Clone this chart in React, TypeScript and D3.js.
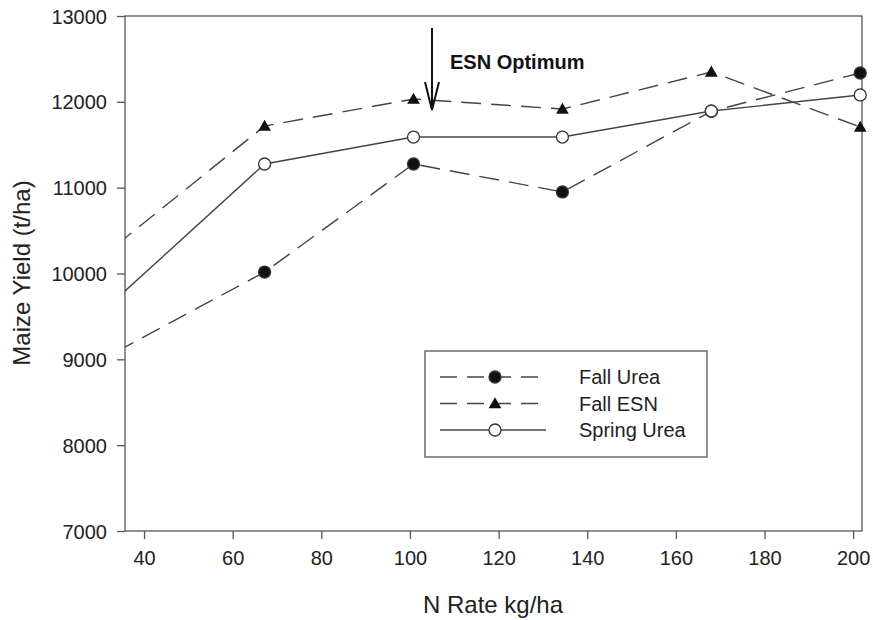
import React, { useEffect, useRef } from "react";
import * as d3 from "d3";

// N rate in kg/ha (first rate sits just left of the axis and is clipped)
const nRates = [33.6, 67.2, 100.8, 134.4, 168, 201.6];
const fallUrea = [9085, 10017, 11276, 10950, 11890, 12336];
const fallESN = [10326, 11718, 12033, 11916, 12348, 11707];
const springUrea = [9697, 11276, 11590, 11590, 11893, 12080];

const xTicks = [40, 60, 80, 100, 120, 140, 160, 180, 200];
const yTicks = [7000, 8000, 9000, 10000, 11000, 12000, 13000];

const seriesList = [
  { name: "Fall Urea", values: fallUrea, marker: "circle", fill: "#111", dash: "20,10" },
  { name: "Fall ESN", values: fallESN, marker: "triangle", fill: "#111", dash: "20,10" },
  { name: "Spring Urea", values: springUrea, marker: "circle", fill: "#fff", dash: null },
];

const App = () => {
  const ref = useRef<SVGSVGElement>(null);

  useEffect(() => {
    const svg = d3.select(ref.current);
    svg.selectAll("*").remove();

    const left = 125;
    const right = 862;
    const top = 16;
    const bottom = 531;
    const font = "'Liberation Sans', Arial, sans-serif";

    const x = d3.scaleLinear().domain([35.7, 202]).range([left, right]);
    const y = d3.scaleLinear().domain([7000, 13000]).range([bottom, top]);

    svg
      .append("defs")
      .append("clipPath")
      .attr("id", "plot-clip")
      .append("rect")
      .attr("x", left)
      .attr("y", top)
      .attr("width", right - left)
      .attr("height", bottom - top);

    // frame
    svg
      .append("rect")
      .attr("x", left)
      .attr("y", top)
      .attr("width", right - left)
      .attr("height", bottom - top)
      .attr("fill", "none")
      .attr("stroke", "#555")
      .attr("stroke-width", 1.3);

    // axes
    const xAxis = svg
      .append("g")
      .attr("transform", `translate(0,${bottom})`)
      .call(d3.axisBottom(x).tickValues(xTicks).tickSize(8).tickPadding(12).tickFormat(d3.format("d")));
    const yAxis = svg
      .append("g")
      .attr("transform", `translate(${left},0)`)
      .call(d3.axisLeft(y).tickValues(yTicks).tickSize(8).tickPadding(10).tickFormat(d3.format("d")));

    [xAxis, yAxis].forEach((g) => {
      g.select(".domain").remove();
      g.selectAll("line").attr("stroke", "#555").attr("stroke-width", 1.3);
      g.selectAll("text").attr("font-family", font).attr("font-size", 20).attr("fill", "#222");
    });
    yAxis.selectAll("text").attr("dy", "0.35em");

    // lines
    const plot = svg.append("g").attr("clip-path", "url(#plot-clip)");
    const line = d3
      .line<number>()
      .x((d, i) => x(nRates[i]))
      .y((d) => y(d));

    seriesList.forEach((s) => {
      plot
        .append("path")
        .attr("d", line(s.values))
        .attr("fill", "none")
        .attr("stroke", "#444")
        .attr("stroke-width", 1.4)
        .attr("stroke-dasharray", s.dash);
    });

    const drawMarker = (g, s, cx, cy) => {
      if (s.marker === "circle") {
        g.append("circle")
          .attr("cx", cx)
          .attr("cy", cy)
          .attr("r", 6)
          .attr("fill", s.fill)
          .attr("stroke", "#333")
          .attr("stroke-width", 1.3);
      } else {
        g.append("path")
          .attr("d", d3.symbol(d3.symbolTriangle, 70)())
          .attr("transform", `translate(${cx},${cy + 1})`)
          .attr("fill", s.fill);
      }
    };

    const marks = svg.append("g");
    seriesList.forEach((s) => {
      s.values.forEach((v, i) => {
        if (nRates[i] < 35.7) return;
        drawMarker(marks, s, x(nRates[i]), y(v));
      });
    });

    // annotation
    const ax = 432;
    svg
      .append("line")
      .attr("x1", ax)
      .attr("x2", ax)
      .attr("y1", 28)
      .attr("y2", 110)
      .attr("stroke", "#111")
      .attr("stroke-width", 2);
    svg
      .append("path")
      .attr("d", `M${ax - 7},82 L${ax},110 L${ax + 7},82`)
      .attr("fill", "none")
      .attr("stroke", "#111")
      .attr("stroke-width", 2);
    svg
      .append("text")
      .attr("x", 450)
      .attr("y", 69)
      .attr("font-family", font)
      .attr("font-size", 20)
      .attr("font-weight", "bold")
      .attr("fill", "#111")
      .text("ESN Optimum");

    // legend
    const legend = svg.append("g");
    legend
      .append("rect")
      .attr("x", 425)
      .attr("y", 351)
      .attr("width", 282)
      .attr("height", 106)
      .attr("fill", "#fff")
      .attr("stroke", "#555")
      .attr("stroke-width", 1.3);
    seriesList.forEach((s, i) => {
      const ly = 377 + i * 26.5;
      legend
        .append("line")
        .attr("x1", 440)
        .attr("x2", 546)
        .attr("y1", ly)
        .attr("y2", ly)
        .attr("stroke", "#444")
        .attr("stroke-width", 1.4)
        .attr("stroke-dasharray", s.dash ? "17,10" : null);
      drawMarker(legend, s, 495, ly);
      legend
        .append("text")
        .attr("x", 579)
        .attr("y", ly)
        .attr("dy", "0.35em")
        .attr("font-family", font)
        .attr("font-size", 20)
        .attr("fill", "#222")
        .text(s.name);
    });

    // axis titles
    svg
      .append("text")
      .attr("x", 493)
      .attr("y", 613)
      .attr("text-anchor", "middle")
      .attr("font-family", font)
      .attr("font-size", 24)
      .attr("fill", "#222")
      .text("N Rate kg/ha");
    svg
      .append("text")
      .attr("transform", `translate(30,273) rotate(-90)`)
      .attr("text-anchor", "middle")
      .attr("font-family", font)
      .attr("font-size", 24)
      .attr("fill", "#222")
      .text("Maize Yield (t/ha)");
  }, []);

  return (
    <svg
      ref={ref}
      width={873}
      height={620}
      style={{ position: "absolute", left: 0, top: 0, background: "#fff" }}
    />
  );
};

export default App;
